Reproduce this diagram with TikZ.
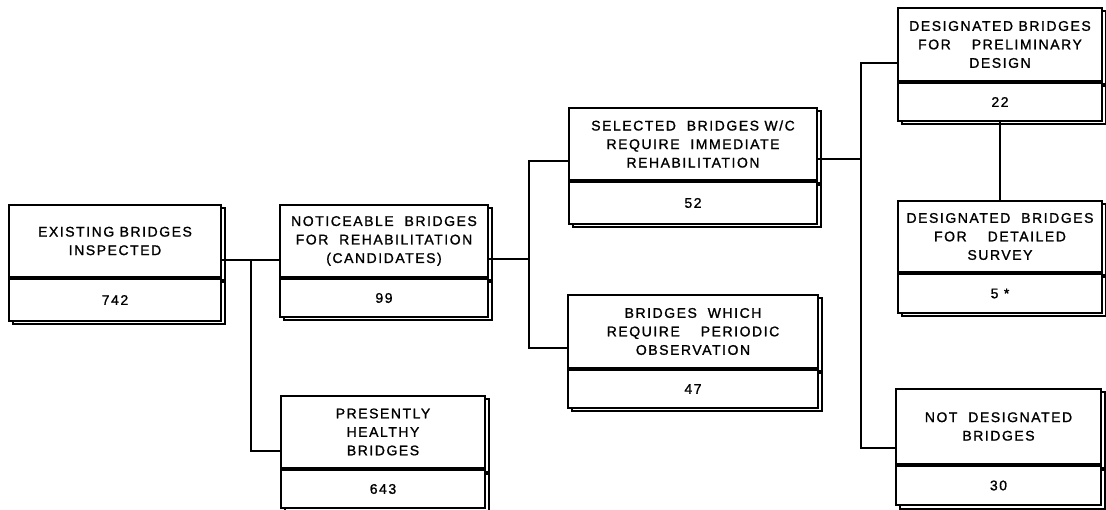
\documentclass[tikz,border=0pt]{standalone}
\usepackage{fontspec}
\newfontfamily\lettering[LetterSpace=11, FakeBold=1.2]{Liberation Sans}
\usetikzlibrary{positioning,calc,shadows}

\begin{document}
\begin{tikzpicture}[
    x=1pt, y=-1pt,
    head/.style={draw, line width=2pt, fill=white, align=center, inner sep=3pt,
      minimum height=72pt,
      font={\lettering\fontsize{14pt}{18.5pt}\selectfont},
      copy shadow={shadow xshift=3.5pt, shadow yshift=-3.5pt}},
    count/.style={head, minimum height=40pt},
    link/.style={line width=2pt}
  ]
    \useasboundingbox (0,0) rectangle (1106,510);
    % first column
    \node[head, anchor=north west, minimum width=212pt] (exist) at (8,204) {EXISTING BRIDGES\\INSPECTED};
    \node[count, below=0pt of exist, minimum width=212pt, minimum height=42pt] (existn) {742};
    % second column
    \node[head, anchor=north west, minimum width=208pt] (notice) at (279,204)
      {NOTICEABLE\ \ BRIDGES\\FOR\ \ REHABILITATION\\(CANDIDATES)};
    \node[count, below=0pt of notice, minimum width=208pt, minimum height=38pt] (noticen) {99};
    \node[head, anchor=north west, minimum width=204pt] (healthy) at (280,395) {PRESENTLY\\HEALTHY\\BRIDGES};
    \node[count, below=0pt of healthy, minimum width=204pt, minimum height=38pt] (healthyn) {643};
    % third column
    \node[head, anchor=north west, minimum width=248pt] (select) at (568,107)
      {SELECTED\ \ BRIDGES W/C\\REQUIRE\ \ IMMEDIATE\\REHABILITATION};
    \node[count, below=0pt of select, minimum width=248pt, minimum height=42pt] (selectn) {52};
    \node[head, anchor=north west, minimum width=250pt, minimum height=73pt] (periodic) at (567,294)
      {BRIDGES\ \ WHICH\\REQUIRE\hspace{1.5em}PERIODIC\\OBSERVATION};
    \node[count, below=0pt of periodic, minimum width=250pt, minimum height=38pt] (periodicn) {47};
    % fourth column
    \node[head, anchor=north west, minimum width=204pt, minimum height=73pt] (prelim) at (897,7)
      {DESIGNATED BRIDGES\\FOR\hspace{1.5em}PRELIMINARY\\DESIGN};
    \node[count, below=0pt of prelim, minimum width=204pt, minimum height=38pt] (prelimn) {22};
    \node[head, anchor=north west, minimum width=204pt, minimum height=71pt] (detail) at (897,200)
      {DESIGNATED\ \ BRIDGES\\FOR\hspace{1.5em}DETAILED\\SURVEY};
    \node[count, below=0pt of detail, minimum width=204pt, minimum height=39pt] (detailn) {5 *};
    \node[head, anchor=north west, minimum width=205pt, minimum height=75pt] (notdes) at (895,388)
      {NOT\ \ DESIGNATED\\BRIDGES};
    \node[count, below=0pt of notdes, minimum width=205pt, minimum height=39pt] (notdesn) {30};
    % connectors
    \coordinate (fork1) at ($(exist.east)!.5!(notice.west)+(0,-19pt)$);
    \coordinate (fork2) at ($(notice.east)!.5!(notice.east -| select.west)+(0,-18pt)$);
    \coordinate (fork3) at ($(select.east)!.55!(select.east -| prelim.west)+(0,-15pt)$);
    \draw[link] ([yshift=-19pt]exist.east) -- ([yshift=-19pt]notice.west);
    \draw[link] (fork1) |- ([yshift=-19pt]healthy.west);
    \draw[link] ([yshift=-18pt]notice.east) -- (fork2);
    \draw[link] ([yshift=-17pt]select.west) -| (fork2) |- ([yshift=-17pt]periodic.west);
    \draw[link] ([yshift=-15pt]select.east) -- (fork3);
    \draw[link] ([yshift=-19pt]prelim.west) -| (fork3) |- ([yshift=-22pt]notdes.west);
    \draw[link] (prelimn.south) -- (detail.north);
  \end{tikzpicture}
\end{document}
